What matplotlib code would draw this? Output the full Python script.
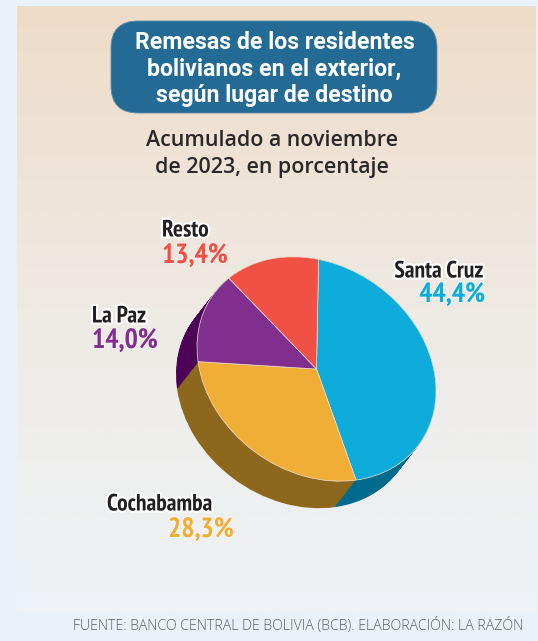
import numpy as np
import matplotlib
matplotlib.use('Agg')
from matplotlib import pyplot as plt
from matplotlib.colors import LinearSegmentedColormap
from matplotlib.patches import FancyBboxPatch
from matplotlib.transforms import Affine2D
import matplotlib.patheffects as pe

W, H = 538, 641

places = ['Santa Cruz', 'Cochabamba', 'La Paz', 'Resto']
shares = [44.4, 28.3, 14.0, 13.4]
share_labels = ['44,4%', '28,3%', '14,0%', '13,4%']
top_colors = ['#0dacdb', '#f1ae37', '#812f8e', '#f15044']
side_colors = ['#006b8c', '#8d671c', '#4d0458', '#8d671c']

title = 'Remesas de los residentes\nbolivianos en el exterior,\nsegún lugar de destino'
subtitle = 'Acumulado a noviembre\nde 2023, en porcentaje'
source = 'FUENTE: BANCO CENTRAL DE BOLIVIA (BCB). ELABORACIÓN: LA RAZÓN'

narrow = ['PT Sans Narrow', 'Fira Sans Condensed', 'Roboto Condensed', 'Liberation Sans']

fig = plt.figure(figsize=(W / 100, H / 100), dpi=100, facecolor='#e9f2fb')
ax = fig.add_axes([0, 0, 1, 1])


def py(y):
    # picture rows run downwards, the axes run upwards
    return H - y


def tilted(dx=0, dy=0):
    # the unit pie squeezed into the slanted ellipse of the drawing
    return Affine2D.from_values(119.5, -22, 0, 110, 316.5 + dx, py(369) - dy)


def draw_pie(colors, dx, dy, z, edge='none'):
    wedges, _ = ax.pie(shares, colors=colors, startangle=89, counterclock=False,
                       wedgeprops={'edgecolor': edge, 'linewidth': 0.5})
    for w in wedges:
        w.set_transform(tilted(dx, dy) + ax.transData)
        w.set_zorder(z)


# side wall: copies of the dark pie going back along the extrusion
for k in np.linspace(1, 0, 40):
    draw_pie(side_colors, -21 * k, 27 * k, 2)
draw_pie(top_colors, 0, 0, 3, edge='#f3e3d3')

ax.set_xlim(0, W)
ax.set_ylim(0, H)
ax.set_aspect('auto')
ax.axis('off')

# background panel, sand at the top fading to grey-blue
cmap = LinearSegmentedColormap.from_list('panel', ['#eedcc8', '#eee3d6', '#eeeae4', '#eeefee', '#eef2f6'])
grad = np.linspace(0, 1, 256).reshape(-1, 1)
ax.imshow(grad, cmap=cmap, extent=(17, 535.5, py(612), py(6)), aspect='auto', zorder=0)
ax.set_xlim(0, W)
ax.set_ylim(0, H)

box = FancyBboxPatch((111, py(113)), 326, 92, boxstyle='round,pad=0,rounding_size=27',
                     facecolor='#236a94', edgecolor='#5d8fa9', linewidth=0.6, zorder=4)
ax.add_patch(box)
ax.text(274.5, py(69), title, color='white', fontsize=16.7, fontweight='bold',
        family='Roboto', ha='center', va='center', linespacing=1.18, zorder=5)
ax.text(272, py(154), subtitle, color='#2b2829', fontsize=15.4, fontweight='semibold',
        family='Open Sans', ha='center', va='center', linespacing=1.32, zorder=5)

name_halo = [pe.withStroke(linewidth=3, foreground='white')]
value_halo = [pe.withStroke(linewidth=1.2, foreground='#ffffffaa')]
name_pos = [(483, 272, 'right'), (107, 505, 'left'), (92, 317, 'left'), (162, 231, 'left')]
value_pos = [(485, 295, 'right'), (168, 530, 'left'), (92, 341, 'left'), (162, 256, 'left')]

for i in range(len(places)):
    x, y, ha = name_pos[i]
    ax.text(x, py(y), places[i], color='#231f20', fontsize=17, fontweight='bold',
            family=narrow, ha=ha, va='center', path_effects=name_halo, zorder=6)
    x, y, ha = value_pos[i]
    ax.text(x, py(y), share_labels[i], color=top_colors[i], fontsize=20, fontweight='bold',
            family=narrow, ha=ha, va='center', path_effects=value_halo, zorder=6)

ax.text(523, py(626.5), source, color='#5f6063', fontsize=10.2, family='Open Sans',
        fontweight='light', ha='right', va='center', zorder=6)

fig.savefig('out.png', dpi=100, facecolor=fig.get_facecolor())
